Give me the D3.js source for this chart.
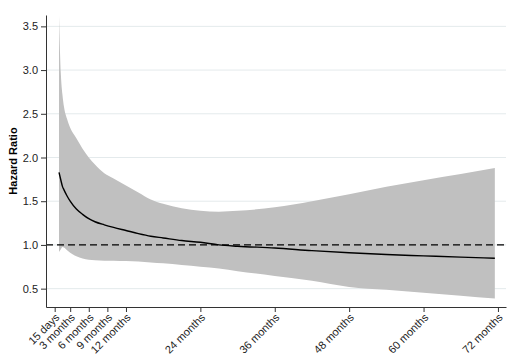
<!DOCTYPE html>
<html>
<head>
<meta charset="utf-8">
<script src="https://cdn.jsdelivr.net/npm/d3@7"></script>
<style>
  body { margin: 0; background: #fff; }
  svg { display: block; font-family: "Liberation Sans", Arial, sans-serif; }
</style>
</head>
<body>
<svg id="chart" width="512" height="360"></svg>
<script>
// time since start, in months
var months = [1.2, 1.5, 1.75, 2, 2.5, 3, 4, 5, 6, 7, 8.5, 10, 12, 14, 16, 18, 21, 24, 27, 30, 36, 42, 48, 54, 60, 66, 71.5];
var hazard = [1.83, 1.74, 1.67, 1.63, 1.56, 1.50, 1.41, 1.35, 1.30, 1.265, 1.23, 1.20, 1.165, 1.13, 1.10, 1.08, 1.05, 1.03, 1.00, 0.985, 0.965, 0.935, 0.91, 0.89, 0.875, 0.86, 0.848];
var upper = [3.62, 2.95, 2.72, 2.58, 2.44, 2.34, 2.22, 2.10, 2.00, 1.92, 1.82, 1.76, 1.68, 1.60, 1.52, 1.47, 1.42, 1.39, 1.38, 1.39, 1.43, 1.50, 1.58, 1.665, 1.74, 1.81, 1.88];
var lower = [0.92, 0.95, 0.975, 0.97, 0.94, 0.91, 0.87, 0.845, 0.83, 0.825, 0.82, 0.82, 0.815, 0.81, 0.80, 0.79, 0.77, 0.75, 0.73, 0.70, 0.645, 0.59, 0.52, 0.487, 0.453, 0.42, 0.388];

var xTicks = [0.5, 3, 6, 9, 12, 24, 36, 48, 60, 72];
var xTickLabels = ["15 days", "3 months", "6 months", "9 months", "12 months", "24 months", "36 months", "48 months", "60 months", "72 months"];
var yTicks = [0.5, 1.0, 1.5, 2.0, 2.5, 3.0, 3.5];

var svg = d3.select("#chart");

var x = d3.scaleLinear().domain([-0.9, 73.3]).range([46, 506]);
var y = d3.scaleLinear().domain([0.29, 3.63]).range([307, 15]);

var rows = months.map(function(m, i) {
    return { m: m, hr: hazard[i], lo: lower[i], hi: upper[i] };
});

// grid
svg.append("g")
    .selectAll("line")
    .data(yTicks)
    .enter().append("line")
    .attr("x1", x.range()[0])
    .attr("x2", x.range()[1])
    .attr("y1", function(d) { return y(d); })
    .attr("y2", function(d) { return y(d); })
    .attr("stroke", "#e4eaec")
    .attr("stroke-width", 1);

// confidence band
var band = d3.area()
    .x(function(d) { return x(d.m); })
    .y0(function(d) { return y(d.lo); })
    .y1(function(d) { return y(d.hi); })
    .curve(d3.curveMonotoneX);

svg.append("path")
    .datum(rows)
    .attr("d", band)
    .attr("fill", "#c0c0c0");

// reference line at HR = 1
svg.append("line")
    .attr("x1", x.range()[0])
    .attr("x2", x.range()[1])
    .attr("y1", y(1))
    .attr("y2", y(1))
    .attr("stroke", "#000")
    .attr("stroke-width", 1.2)
    .attr("stroke-dasharray", "7,4");

// hazard ratio
var line = d3.line()
    .x(function(d) { return x(d.m); })
    .y(function(d) { return y(d.hr); })
    .curve(d3.curveMonotoneX);

svg.append("path")
    .datum(rows)
    .attr("d", line)
    .attr("fill", "none")
    .attr("stroke", "#000")
    .attr("stroke-width", 1.4);

// axes
var xAxis = d3.axisBottom(x)
    .tickValues(xTicks)
    .tickSizeInner(5)
    .tickSizeOuter(0)
    .tickFormat(function(d, i) { return xTickLabels[i]; });

var gx = svg.append("g")
    .attr("transform", "translate(0,307)")
    .call(xAxis);

gx.selectAll("text")
    .attr("text-anchor", "end")
    .attr("x", 0)
    .attr("y", 0)
    .attr("dx", "0")
    .attr("dy", "0")
    .attr("transform", "translate(5,11) rotate(-45)");

var yAxis = d3.axisLeft(y)
    .tickValues(yTicks)
    .tickSizeInner(5)
    .tickSizeOuter(0)
    .tickFormat(d3.format(".1f"));

var gy = svg.append("g")
    .attr("transform", "translate(46,0)")
    .call(yAxis);

svg.selectAll(".domain").attr("stroke", "#333");
svg.selectAll(".tick line").attr("stroke", "#333");
svg.selectAll(".tick text").attr("font-size", 11).attr("fill", "#222")
    .attr("font-family", "'Liberation Sans', Arial, sans-serif");

svg.append("text")
    .attr("transform", "translate(17,161) rotate(-90)")
    .attr("text-anchor", "middle")
    .attr("font-size", 11)
    .attr("font-weight", "bold")
    .text("Hazard Ratio");
</script>
</body>
</html>
